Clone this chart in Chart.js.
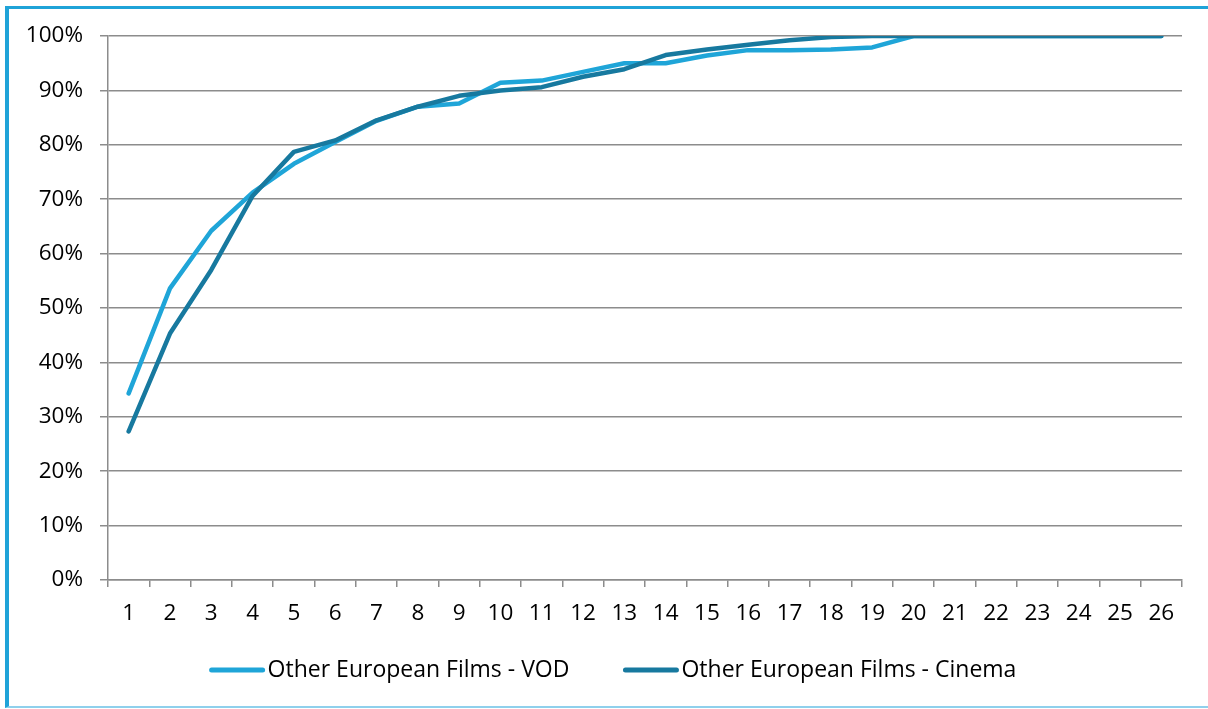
<!DOCTYPE html>
<html>
<head>
<meta charset="utf-8">
<script src="https://cdn.jsdelivr.net/npm/chart.js@4"></script>
<style>
  html, body { margin: 0; padding: 0; background: #fff; }
  body { width: 1208px; height: 709px; position: relative; overflow: hidden; }
  .frame {
    position: absolute; left: 5px; top: 6px; width: 1300px; height: 697px;
    border-left: 4px solid #1fa3d8; border-top: 3px solid #1fa3d8;
    border-bottom: 2px solid #8fd0ec;
  }
  #chart-wrap { position: absolute; left: 0; top: 0; width: 1208px; height: 709px; }
</style>
</head>
<body>
<div class="frame"></div>
<div id="chart-wrap"><canvas id="chart" width="1208" height="709"></canvas></div>
<script>
// =============================================
// Data
// =============================================
const categories = ['1', '2', '3', '4', '5', '6', '7', '8', '9', '10', '11', '12', '13',
  '14', '15', '16', '17', '18', '19', '20', '21', '22', '23', '24', '25', '26'];

const vodShare = [34.3, 53.6, 64.2, 71.2, 76.5, 80.5, 84.4, 87.0, 87.6, 91.4, 91.8, 93.4, 95.0,
  95.0, 96.4, 97.4, 97.4, 97.5, 97.9, 100, 100, 100, 100, 100, 100, 100];

const cinemaShare = [27.3, 45.3, 57.0, 70.6, 78.7, 80.8, 84.5, 87.0, 89.0, 90.0, 90.6, 92.5, 93.9,
  96.5, 97.5, 98.4, 99.2, 99.8, 100, 100, 100, 100, 100, 100, 100, 100];

const yTicks = [0, 10, 20, 30, 40, 50, 60, 70, 80, 90, 100];

const FONT = '"Open Sans", Lato, sans-serif';
const GRID = '#8c8c8c';

// =============================================
// Legend drawn as in the original (line + text, centred row)
// =============================================
const lineLegend = {
  id: 'lineLegend',
  afterDraw(chart) {
    const ctx = chart.ctx;
    const y = 670, lineLen = 55, gap = 3, itemGap = 54;
    ctx.save();
    ctx.font = `23px ${FONT}`;
    ctx.textBaseline = 'middle';
    const items = chart.data.datasets.map(ds => ({
      label: ds.label, color: ds.borderColor, w: ctx.measureText(ds.label).width
    }));
    const total = items.reduce((s, it) => s + lineLen + gap + it.w, 0) + itemGap * (items.length - 1);
    let x = 613 - total / 2;
    items.forEach(it => {
      ctx.strokeStyle = it.color;
      ctx.lineWidth = 5;
      ctx.lineCap = 'round';
      ctx.beginPath();
      ctx.moveTo(x + 2, y);
      ctx.lineTo(x + lineLen - 2, y);
      ctx.stroke();
      ctx.fillStyle = '#000';
      ctx.fillText(it.label, x + lineLen + gap, y);
      x += lineLen + gap + it.w + itemGap;
    });
    ctx.restore();
  }
};

// =============================================
// Chart
// =============================================
new Chart(document.getElementById('chart'), {
  type: 'line',
  data: {
    labels: categories,
    datasets: [
      {
        label: 'Other European Films - VOD',
        data: vodShare,
        borderColor: '#1fa5d8',
        borderWidth: 4.5,
        order: 2
      },
      {
        label: 'Other European Films - Cinema',
        data: cinemaShare,
        borderColor: '#17799f',
        borderWidth: 4.5,
        order: 1
      }
    ]
  },
  options: {
    responsive: false,
    animation: false,
    devicePixelRatio: 1,
    layout: { padding: { top: 36, right: 26, bottom: 79, left: 0 } },
    elements: {
      point: { radius: 0 },
      line: { tension: 0, borderCapStyle: 'round', borderJoinStyle: 'round' }
    },
    scales: {
      x: {
        offset: true,
        grid: { offset: true, drawOnChartArea: false, drawTicks: true, tickLength: 7, color: GRID, lineWidth: 1.5 },
        border: { color: GRID, width: 1.5 },
        ticks: { font: { family: FONT, size: 22.5 }, color: '#000', padding: 13, maxRotation: 0, autoSkip: false },
        afterFit(s) { s.height = 50; s.paddingLeft = 0; s.paddingRight = 0; }
      },
      y: {
        min: 0,
        max: 100,
        afterBuildTicks(s) { s.ticks = yTicks.map(v => ({ value: v })); },
        grid: { color: GRID, lineWidth: 1.5, tickLength: 8 },
        border: { color: GRID, width: 1.5 },
        ticks: {
          font: { family: FONT, size: 22.5 },
          color: '#000',
          padding: 17,
          callback: v => v + '%'
        },
        afterFit(s) { s.width = 108; s.paddingTop = 0; s.paddingBottom = 0; }
      }
    },
    plugins: {
      legend: { display: false },
      tooltip: { enabled: false }
    }
  },
  plugins: [lineLegend]
});
</script>
</body>
</html>
